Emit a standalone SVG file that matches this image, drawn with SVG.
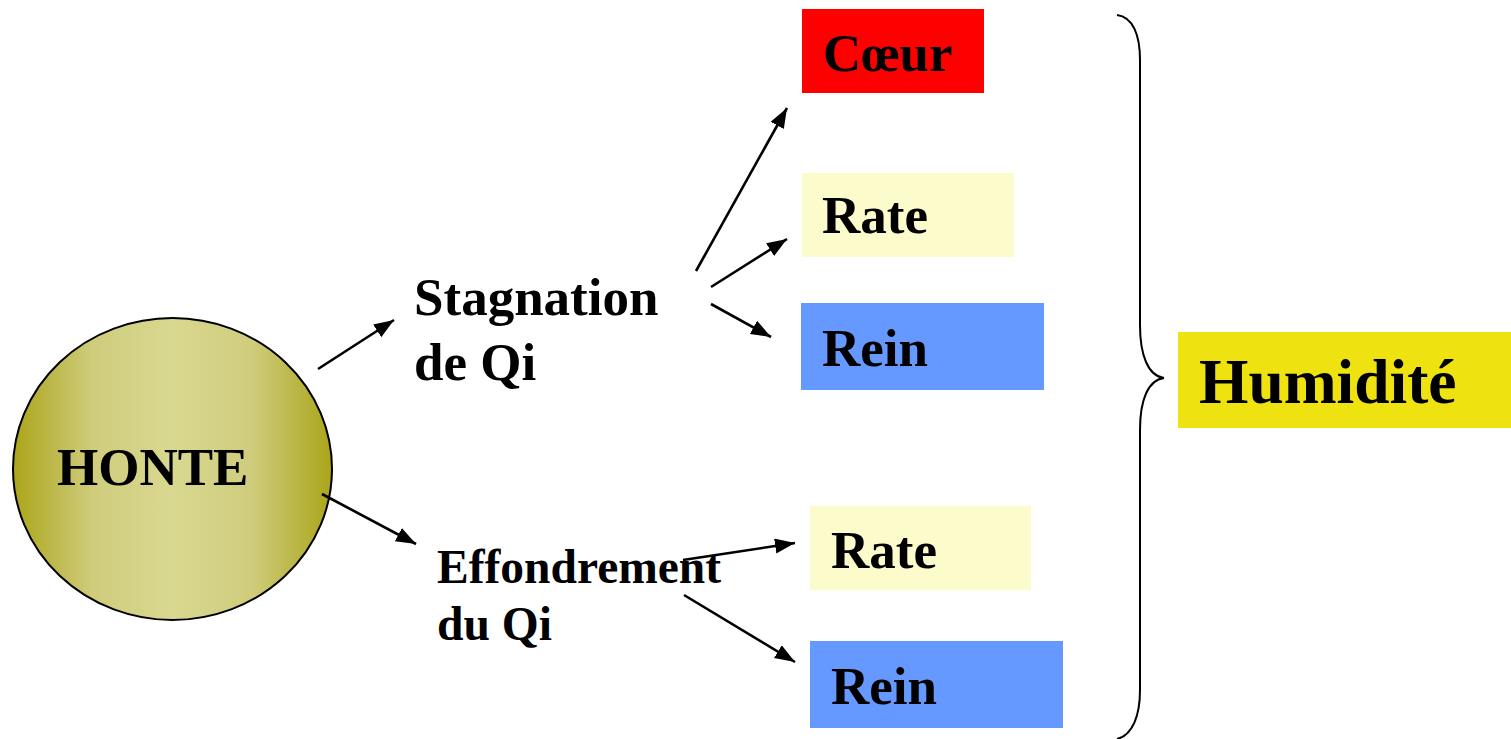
<svg xmlns="http://www.w3.org/2000/svg" width="1511" height="739" viewBox="0 0 1511 739">
<defs>
<linearGradient id="olive" x1="0" y1="0" x2="1" y2="0">
<stop offset="0" stop-color="#ABA51A"/>
<stop offset="0.25" stop-color="#CFCC7C"/>
<stop offset="0.5" stop-color="#D9D890"/>
<stop offset="0.75" stop-color="#CFCC7C"/>
<stop offset="1" stop-color="#ABA51A"/>
</linearGradient>
<marker id="arr" markerUnits="userSpaceOnUse" markerWidth="22" markerHeight="16" refX="20" refY="7.5" orient="auto">
<path d="M0,0 L20,7.5 L0,15 z" fill="#000"/>
</marker>
</defs>
<style>
.t{font-family:"Liberation Serif","Times New Roman",serif;font-weight:bold;fill:#000}
.c{stroke:#000;stroke-width:2.6;fill:none;marker-end:url(#arr)}
</style>
<rect width="1511" height="739" fill="#fff"/>
<g id="honte">
<ellipse cx="172.5" cy="469" rx="159.5" ry="151" fill="url(#olive)" stroke="#000" stroke-width="2"/>
<text class="t" x="57" y="485" font-size="53">HONTE</text>
</g>
<g id="stagnation">
<text class="t" x="414" y="315" font-size="53">Stagnation</text>
<text class="t" x="414" y="380" font-size="53">de Qi</text>
</g>
<g id="effondrement">
<text class="t" x="437" y="583" font-size="47.5">Effondrement</text>
<text class="t" x="437" y="640" font-size="47.5">du Qi</text>
</g>
<g id="coeur">
<rect x="802" y="9" width="182" height="84" fill="#FF0000"/>
<text class="t" x="823" y="71" font-size="53">Cœur</text>
</g>
<g id="rate1">
<rect x="802" y="173" width="212" height="84" fill="#FCFBCC"/>
<text class="t" x="822" y="233" font-size="53">Rate</text>
</g>
<g id="rein1">
<rect x="801" y="303" width="243" height="87" fill="#6699FF"/>
<text class="t" x="822" y="366" font-size="53">Rein</text>
</g>
<g id="rate2">
<rect x="810" y="506" width="221" height="84" fill="#FCFBCC"/>
<text class="t" x="831" y="568" font-size="53">Rate</text>
</g>
<g id="rein2">
<rect x="810" y="641" width="253" height="87" fill="#6699FF"/>
<text class="t" x="831" y="704" font-size="53">Rein</text>
</g>
<g id="humidite">
<rect x="1178" y="332" width="333" height="96" fill="#EEE310"/>
<text class="t" x="1199" y="403" font-size="63.5">Humidité</text>
</g>
<g id="connectors">
<line class="c" x1="318" y1="369" x2="394" y2="320"/>
<line class="c" x1="322" y1="494" x2="416" y2="544"/>
<line class="c" x1="696" y1="271" x2="787" y2="108"/>
<line class="c" x1="711" y1="287" x2="787" y2="239"/>
<line class="c" x1="711" y1="304" x2="771" y2="337"/>
<line class="c" x1="683" y1="560" x2="795" y2="543"/>
<line class="c" x1="684" y1="595" x2="795" y2="662"/>
<path d="M1117,15 C1133,17 1140,35 1140,60 L1140,325 C1140,355 1148,376 1164,378 C1148,380 1140,400 1140,430 L1140,690 C1140,715 1133,735 1117,739" fill="none" stroke="#000" stroke-width="2"/>
</g>
</svg>
